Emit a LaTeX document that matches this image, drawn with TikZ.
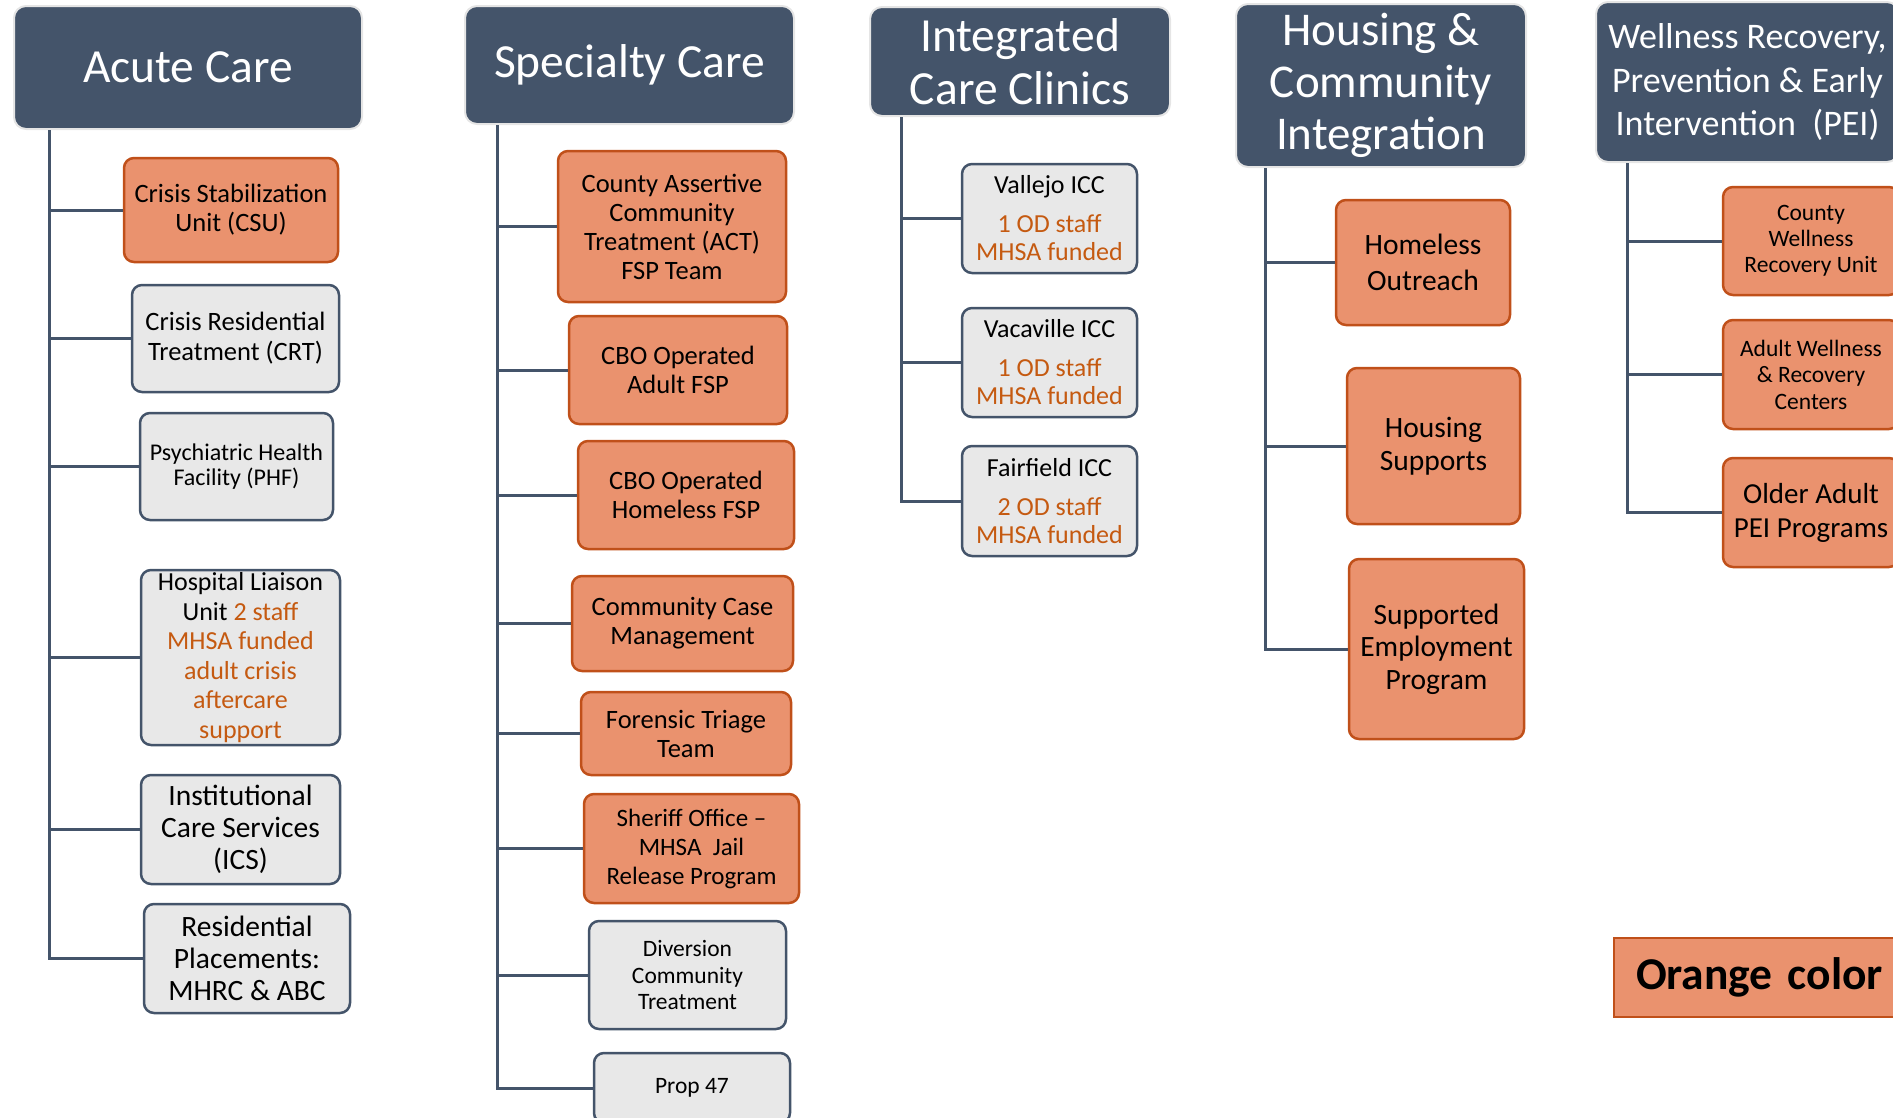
\documentclass[tikz,border=0pt]{standalone}
\usepackage{fontspec}
\setmainfont{Carlito}
\definecolor{hdblue}{HTML}{44546A}
\definecolor{orfill}{HTML}{EA926E}
\definecolor{ordraw}{HTML}{C0501A}
\definecolor{grfill}{HTML}{E8E8E8}
\definecolor{odred}{HTML}{C55A11}
\newcommand{\sz}[2]{\fontsize{#1}{#2}\selectfont}
\newcommand{\od}[1]{\textcolor{odred}{#1}}
\begin{document}
\begin{tikzpicture}[x=1pt,y=-1pt,
		head/.style={rectangle,rounded corners=12pt,fill=hdblue,draw=gray!20,line width=2pt,text=white,align=center,inner sep=0pt,font=\sz{47.5}{53}},
		obox/.style={rectangle,rounded corners=10pt,fill=orfill,draw=ordraw,line width=2.5pt,align=center,inner sep=0pt},
		gbox/.style={rectangle,rounded corners=10pt,fill=grfill,draw=hdblue,line width=2.5pt,align=center,inner sep=0pt},
		conn/.style={draw=hdblue,line width=3pt}]
	\useasboundingbox (0,0) rectangle (1893,1117);
	\node[head,minimum width=348pt,minimum height=123pt] (acute) at (188,67.5) {Acute Care};
	\node[head,minimum width=329pt,minimum height=118pt] (spec) at (629.5,65) {Specialty Care};
	\node[head,minimum width=300pt,minimum height=109pt] (icc) at (1020,61.5) {Integrated\\Care Clinics};
	\node[head,minimum width=290pt,minimum height=163pt,font=\sz{47}{52}] (house) at (1381,85.5) {Housing \&\\Community\\Integration};
	\node[head,minimum width=303pt,minimum height=160pt,font=\sz{36}{43.5}] (well) at (1747.5,82) {Wellness Recovery,\\Prevention \& Early\\Intervention\ \ (PEI)};
	\coordinate (ta) at (49,0);
	\coordinate (ts) at (497,0);
	\coordinate (ti) at (901,0);
	\coordinate (th) at (1265,0);
	\coordinate (tw) at (1627,0);
	\node[obox,minimum width=214pt,minimum height=104pt,font=\sz{26.5}{29}] (csu) at (231,210) {Crisis Stabilization\\Unit (CSU)};
	\node[gbox,minimum width=207pt,minimum height=107pt,font=\sz{26.5}{30}] (crt) at (235.5,338.5) {Crisis Residential\\Treatment (CRT)};
	\node[gbox,minimum width=193pt,minimum height=107pt,font=\sz{24}{25.5}] (phf) at (236.5,466.5) {Psychiatric Health\\Facility (PHF)};
	\node[gbox,minimum width=199pt,minimum height=175pt,font=\sz{26}{29.5}] (hlu) at (240.5,657.5) {Hospital Liaison\\Unit \od{2 staff}\\\od{MHSA funded}\\\od{adult crisis}\\\od{aftercare}\\\od{support}};
	\node[gbox,minimum width=199pt,minimum height=109pt,font=\sz{29.5}{32}] (ics) at (240.5,829.5) {Institutional\\Care Services\\(ICS)};
	\node[gbox,minimum width=206pt,minimum height=109pt,font=\sz{29.5}{32}] (rp) at (247,958.5) {Residential\\Placements:\\MHRC \& ABC};
	\node[obox,minimum width=228pt,minimum height=151pt,font=\sz{26.5}{29}] (act) at (672,226.5) {County Assertive\\Community\\Treatment (ACT)\\FSP Team};
	\node[obox,minimum width=218pt,minimum height=108pt,font=\sz{26.5}{29}] (cboa) at (678,370) {CBO Operated\\Adult FSP};
	\node[obox,minimum width=216pt,minimum height=108pt,font=\sz{26.5}{29}] (cboh) at (686,495) {CBO Operated\\Homeless FSP};
	\node[obox,minimum width=221pt,minimum height=95pt,font=\sz{26.5}{29}] (ccm) at (682.5,623.5) {Community Case\\Management};
	\node[obox,minimum width=210pt,minimum height=83pt,font=\sz{26.5}{29}] (ftt) at (686,733.5) {Forensic Triage\\Team};
	\node[obox,minimum width=215pt,minimum height=109pt,font=\sz{25}{29}] (sheriff) at (691.5,848.5) {Sheriff Office --\\MHSA\ \ Jail\\Release Program};
	\node[gbox,minimum width=197pt,minimum height=108pt,font=\sz{23.5}{26.5}] (dct) at (687.5,975) {Diversion\\Community\\Treatment};
	\node[gbox,minimum width=196pt,minimum height=70pt,font=\sz{23.5}{26.5}] (prop) at (692,1088) {Prop 47};
	\node[gbox,minimum width=175pt,minimum height=109pt,font=\sz{26}{28}] (vallejo) at (1049.5,218.5) {Vallejo ICC\\[11pt]\od{1 OD staff}\\\od{MHSA funded}};
	\node[gbox,minimum width=175pt,minimum height=109pt,font=\sz{26}{28}] (vaca) at (1049.5,362.5) {Vacaville ICC\\[11pt]\od{1 OD staff}\\\od{MHSA funded}};
	\node[gbox,minimum width=175pt,minimum height=110pt,font=\sz{26}{28}] (fair) at (1049.5,501) {Fairfield ICC\\[11pt]\od{2 OD staff}\\\od{MHSA funded}};
	\node[obox,minimum width=174pt,minimum height=125pt,font=\sz{29.5}{36}] (ho) at (1423,262.5) {Homeless\\Outreach};
	\node[obox,minimum width=173pt,minimum height=156pt,font=\sz{29.5}{32.5}] (hs) at (1433.5,446) {Housing\\Supports};
	\node[obox,minimum width=175pt,minimum height=180pt,font=\sz{29.5}{32.5}] (se) at (1436.5,649) {Supported\\Employment\\Program};
	\node[obox,minimum width=176pt,minimum height=108pt,font=\sz{23.5}{26}] (cwru) at (1811,241) {County\\Wellness\\Recovery Unit};
	\node[obox,minimum width=176pt,minimum height=109pt,font=\sz{23.5}{26.5}] (awrc) at (1811,374.5) {Adult Wellness\\\& Recovery\\Centers};
	\node[obox,minimum width=176pt,minimum height=109pt,font=\sz{29}{34}] (oapei) at (1811,512.5) {Older Adult\\PEI Programs};
	\node[rectangle,fill=orfill,draw=ordraw,line width=2pt,anchor=west,inner xsep=22pt,text width=280pt,align=left,minimum height=79pt,font=\sz{45.5}{50}\bfseries] (legend) at (1613,977.5) {Orange color};
	\draw[conn] (acute.south -| ta) |- (rp.west);
	\draw[conn] (csu.west) -- (csu.west -| ta);
	\draw[conn] (crt.west) -- (crt.west -| ta);
	\draw[conn] (phf.west) -- (phf.west -| ta);
	\draw[conn] (hlu.west) -- (hlu.west -| ta);
	\draw[conn] (ics.west) -- (ics.west -| ta);
	\draw[conn] (spec.south -| ts) |- (prop.west);
	\draw[conn] (act.west) -- (act.west -| ts);
	\draw[conn] (cboa.west) -- (cboa.west -| ts);
	\draw[conn] (cboh.west) -- (cboh.west -| ts);
	\draw[conn] (ccm.west) -- (ccm.west -| ts);
	\draw[conn] (ftt.west) -- (ftt.west -| ts);
	\draw[conn] (sheriff.west) -- (sheriff.west -| ts);
	\draw[conn] (dct.west) -- (dct.west -| ts);
	\draw[conn] (icc.south -| ti) |- (fair.west);
	\draw[conn] (vallejo.west) -- (vallejo.west -| ti);
	\draw[conn] (vaca.west) -- (vaca.west -| ti);
	\draw[conn] (house.south -| th) |- (se.west);
	\draw[conn] (ho.west) -- (ho.west -| th);
	\draw[conn] (hs.west) -- (hs.west -| th);
	\draw[conn] (well.south -| tw) |- (oapei.west);
	\draw[conn] (cwru.west) -- (cwru.west -| tw);
	\draw[conn] (awrc.west) -- (awrc.west -| tw);
\end{tikzpicture}
\end{document}
